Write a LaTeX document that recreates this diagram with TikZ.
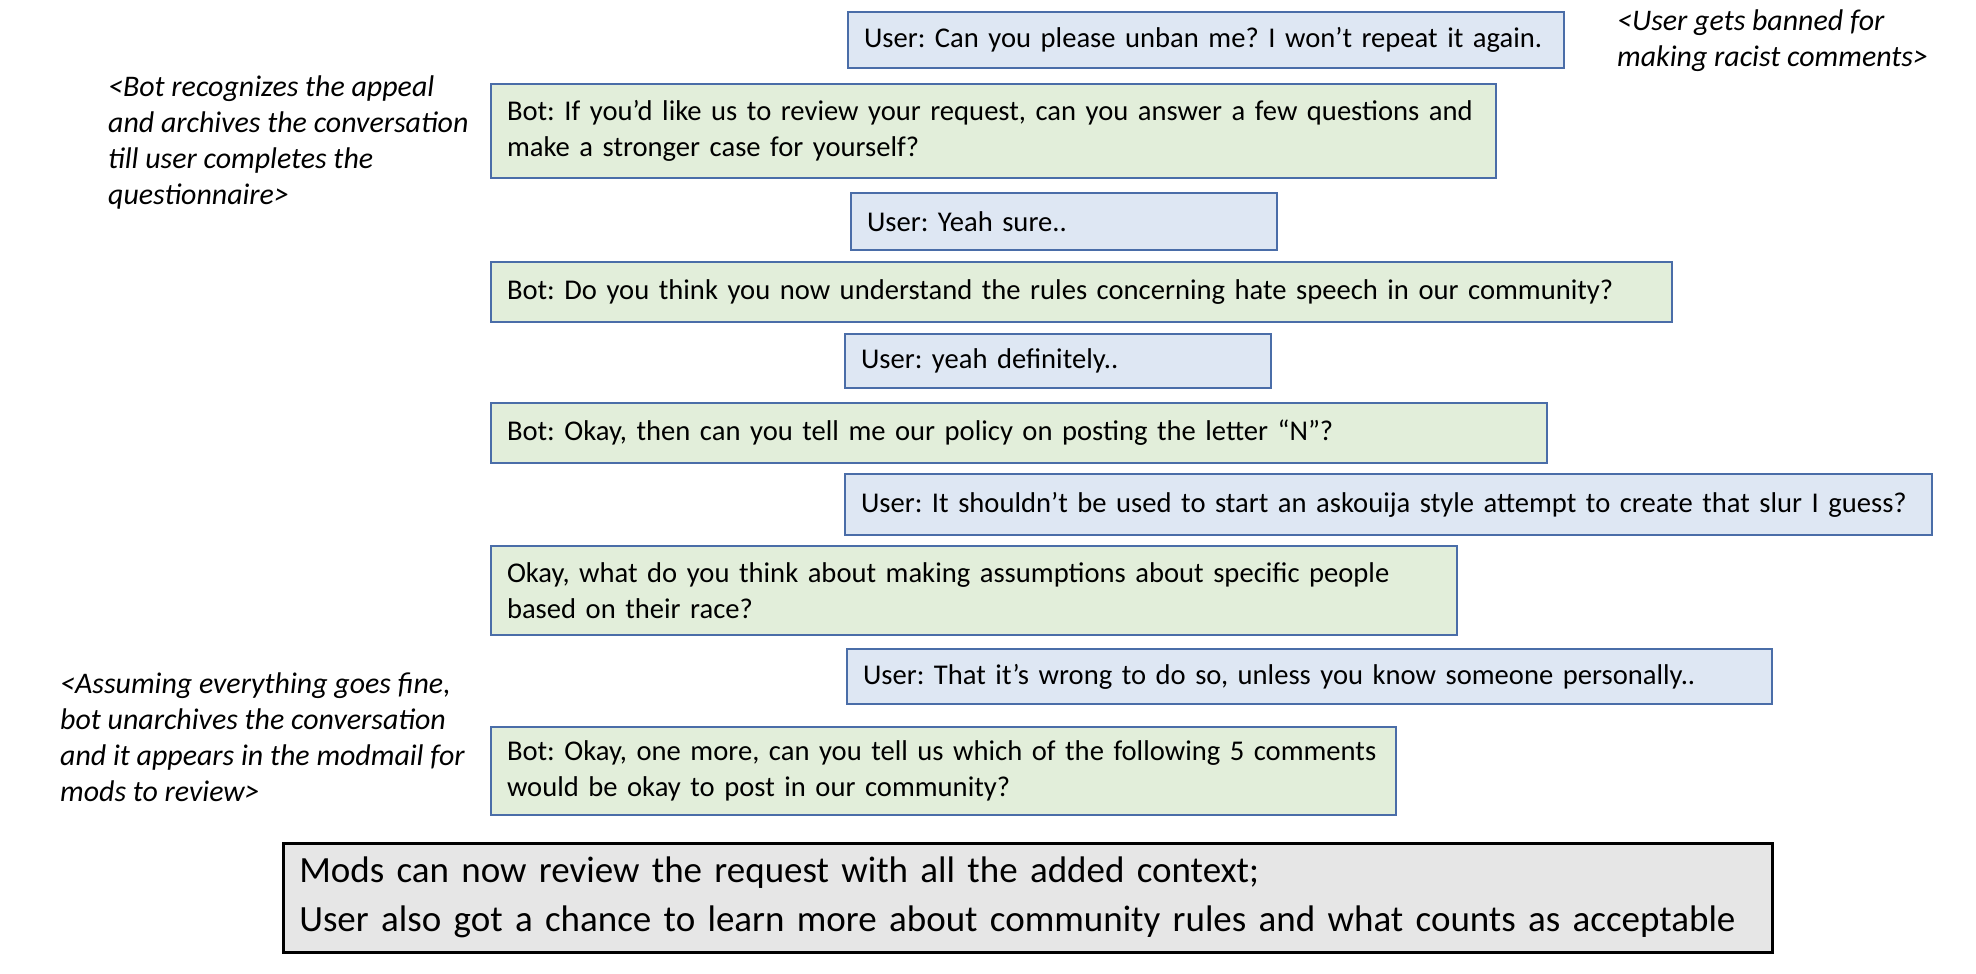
\documentclass[tikz,border=0pt]{standalone}
\usepackage{fontspec}
\setmainfont{Carlito}
\frenchspacing
\definecolor{userfill}{HTML}{DEE7F3}
\definecolor{botfill}{HTML}{E2EEDA}
\definecolor{boxline}{HTML}{4A6DA8}
\definecolor{finalfill}{HTML}{E6E6E6}
\tikzset{
  msg/.style={draw=boxline, line width=2pt, anchor=north west, inner xsep=16pt, inner ysep=4pt,
    align=left, font=\fontsize{28.6}{36.5}\selectfont\frenchspacing, text=black},
  userbox/.style={msg, fill=userfill},
  botbox/.style={msg, fill=botfill},
  finalbox/.style={draw=black, line width=2.5pt, fill=finalfill, anchor=north west, inner xsep=16pt,
    align=left, font=\fontsize{37}{49}\selectfont\frenchspacing},
  note/.style={anchor=north west, align=left, inner sep=0pt, font=\fontsize{29.9}{36}\selectfont\itshape\frenchspacing}
}
\begin{document}
\begin{tikzpicture}[x=1pt,y=-1pt]
\useasboundingbox[fill=white] (0,0) rectangle (1976,974);
\node[userbox, minimum width=716pt, minimum height=56pt, text width=684pt] (u1) at (847,11)
  {\mbox{User: Can you please unban me? I won’t repeat it again.}};
\node[botbox, minimum width=1005pt, minimum height=94pt, text width=973pt] (b1) at (490,83)
  {\mbox{Bot: If you’d like us to review your request, can you answer a few questions and}\\\mbox{make a stronger case for yourself?}};
\node[userbox, minimum width=426pt, minimum height=57pt, text width=394pt] (u2) at (850,192)
  {\mbox{User: Yeah sure..}};
\node[botbox, minimum width=1181pt, minimum height=60pt, text width=1149pt] (b2) at (490,261)
  {\mbox{Bot: Do you think you now understand the rules concerning hate speech in our community?}};
\node[userbox, minimum width=426pt, minimum height=54pt, text width=394pt] (u3) at (844,333)
  {\mbox{User: yeah definitely..}};
\node[botbox, minimum width=1056pt, minimum height=60pt, text width=1024pt] (b3) at (490,402)
  {\mbox{Bot: Okay, then can you tell me our policy on posting the letter “N”?}};
\node[userbox, minimum width=1087pt, minimum height=61pt, text width=1055pt] (u4) at (844,473)
  {\mbox{User: It shouldn’t be used to start an askouija style attempt to create that slur I guess?}};
\node[botbox, minimum width=966pt, minimum height=89pt, text width=934pt] (b4) at (490,545)
  {\mbox{Okay, what do you think about making assumptions about specific people}\\\mbox{based on their race?}};
\node[userbox, minimum width=925pt, minimum height=55pt, text width=893pt] (u5) at (846,648)
  {\mbox{User: That it’s wrong to do so, unless you know someone personally..}};
\node[botbox, minimum width=905pt, minimum height=88pt, text width=873pt] (b5) at (490,726)
  {\mbox{Bot: Okay, one more, can you tell us which of the following 5 comments}\\\mbox{would be okay to post in our community?}};
\node[finalbox, minimum width=1489pt, minimum height=109pt, text width=1457pt] (fin) at (282,842)
  {\mbox{Mods can now review the request with all the added context;}\\\mbox{User also got a chance to learn more about community rules and what counts as acceptable}};
\node[note] (n1) at (1617,10) {<User gets banned for\\making racist comments>};
\node[note] (n2) at (108,76) {<Bot recognizes the appeal\\and archives the conversation\\till user completes the\\questionnaire>};
\node[note] (n3) at (60,673) {<Assuming everything goes fine,\\bot unarchives the conversation\\and it appears in the modmail for\\mods to review>};
\end{tikzpicture}
\end{document}
